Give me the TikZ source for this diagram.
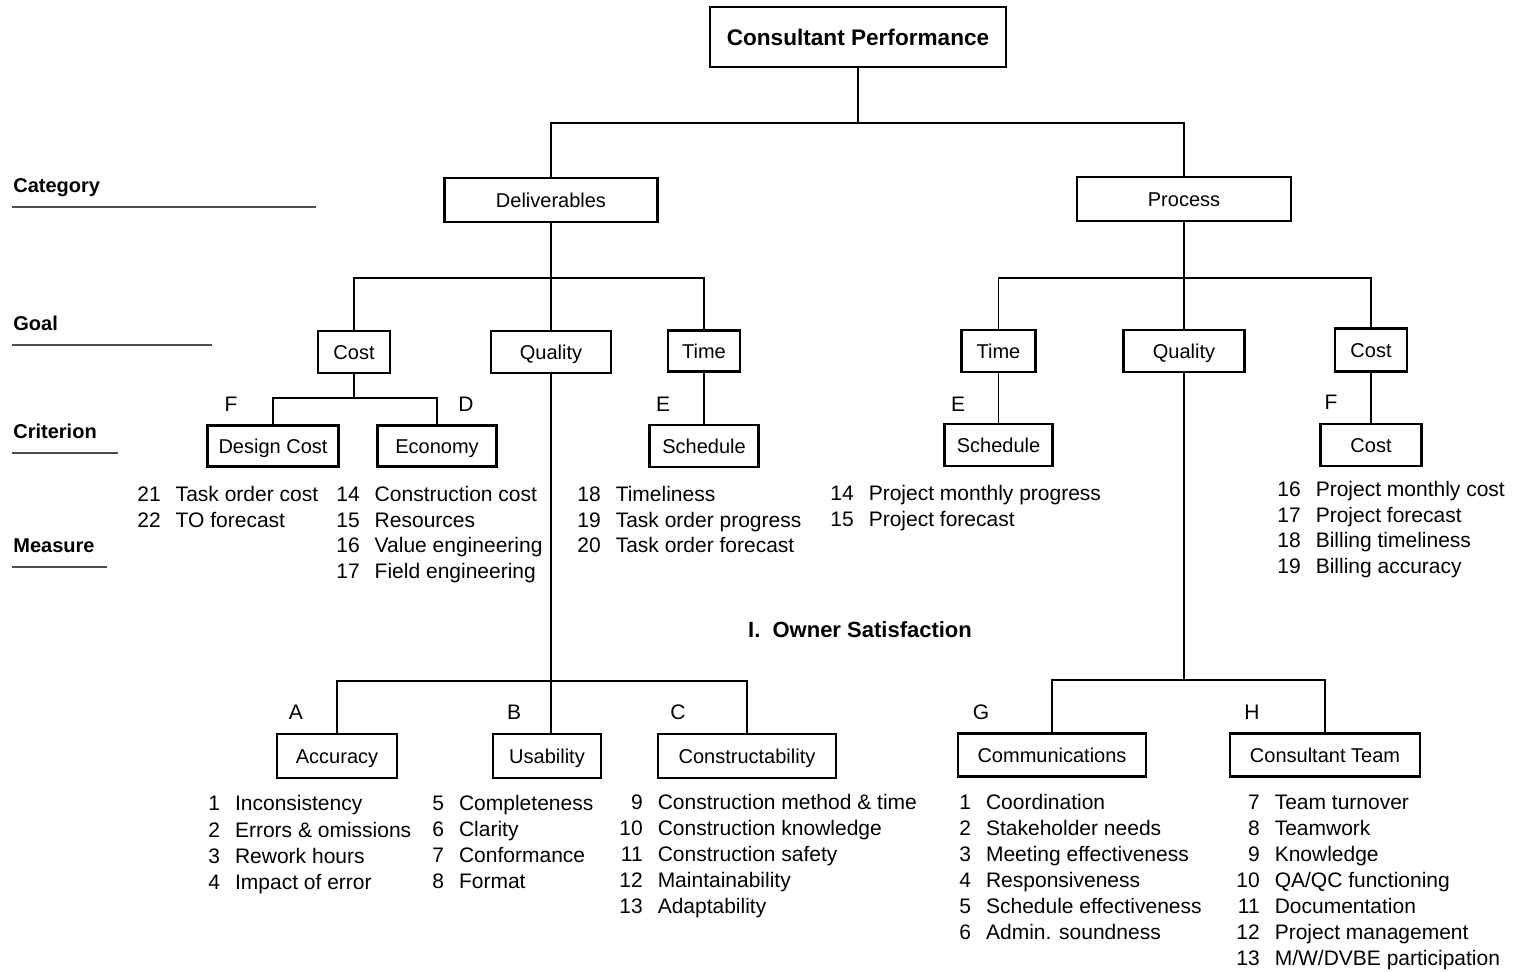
\documentclass[tikz,border=0pt]{standalone}
\usepackage{fontspec}
\setmainfont{Liberation Sans}
\newcommand{\mlist}[1]{\begin{tabular}[t]{@{}r@{\hspace{7.5pt}}l@{}}#1\end{tabular}}
\tikzset{
  box/.style={draw, line width=1.25pt, inner sep=0pt, minimum height=21pt, text height=8.5pt, text depth=1.2pt, font=\fontsize{10}{12}\selectfont},
  topbox/.style={draw, line width=1.25pt, inner sep=0pt, minimum width=148pt, minimum height=30pt, text height=9.4pt, text depth=1.2pt, font=\bfseries\fontsize{11.3}{13}\selectfont},
  lvl/.style={anchor=base west, inner sep=0pt, font=\bfseries\fontsize{10}{12}\selectfont},
  letter/.style={inner sep=0pt, font=\fontsize{10.5}{12}\selectfont},
  lstT/.style={anchor=base west, inner sep=0pt, font=\fontsize{10.5}{12.75}\selectfont},
  lstB/.style={anchor=base west, inner sep=0pt, font=\fontsize{10.5}{13.05}\selectfont},
  conn/.style={line width=0.8pt},
  uline/.style={line width=1pt, black!70},
}
\begin{document}
\begin{tikzpicture}[x=0.5pt,y=-0.5pt]
\useasboundingbox (0,0) rectangle (1516,972);

% level labels
\node[lvl] (lcat) at (13,193) {Category};
\node[lvl] (lgoal) at (13,331) {Goal};
\node[lvl] (lcrit) at (13,439) {Criterion};
\node[lvl] (lmeas) at (13,553) {Measure};
\draw[uline] (12,207) -- (316,207);
\draw[uline] (12,345) -- (212,345);
\draw[uline] (12,453) -- (118,453);
\draw[uline] (12,567) -- (107,567);

% top
\node[topbox] (top) at (858,37) {Consultant Performance};
\node[box, minimum width=106.5pt, minimum height=22pt] (dlv) at (551,200) {Deliverables};
\node[box, minimum width=107pt, minimum height=22pt] (prc) at (1184,199) {Process};

% goals
\node[box, minimum width=36pt] (gcL) at (354,352) {Cost};
\node[box, minimum width=60pt] (gqL) at (551,352) {Quality};
\node[box, minimum width=36pt, minimum height=20.5pt] (gtL) at (704,351) {Time};
\node[box, minimum width=37pt] (gtR) at (998.5,351) {Time};
\node[box, minimum width=60.5pt] (gqR) at (1184,351) {Quality};
\node[box, minimum width=36pt, minimum height=21.5pt] (gcR) at (1371,350) {Cost};

% criteria
\node[box, minimum width=65.5pt, minimum height=20.5pt] (cDC) at (273,446) {Design Cost};
\node[box, minimum width=59.5pt, minimum height=20.5pt] (cEc) at (437,446) {Economy};
\node[box, minimum width=54.5pt] (cSL) at (704,446) {Schedule};
\node[box, minimum width=54pt] (cSR) at (998.5,445) {Schedule};
\node[box, minimum width=50.5pt] (cCR) at (1371,445) {Cost};
\node[box, minimum width=60pt, minimum height=22pt] (cAcc) at (337,756) {Accuracy};
\node[box, minimum width=54pt, minimum height=22pt] (cUse) at (547,756) {Usability};
\node[box, minimum width=89pt, minimum height=22pt] (cCon) at (747,756) {Constructability};
\node[box, minimum width=94pt, minimum height=21.5pt] (cCom) at (1052,755) {Communications};
\node[box, minimum width=95pt, minimum height=21.5pt] (cTeam) at (1325,755) {Consultant Team};

% letters
\node[letter] (lF1) at (231,404) {F};
\node[letter] (lD) at (466,404) {D};
\node[letter] (lE1) at (663,404) {E};
\node[letter] (lE2) at (958,404) {E};
\node[letter] (lF2) at (1331,402) {F};
\node[letter] (lA) at (296,712) {A};
\node[letter] (lB) at (514,712) {B};
\node[letter] (lC) at (678,712) {C};
\node[letter] (lG) at (981,712) {G};
\node[letter] (lH) at (1252,712) {H};

% owner satisfaction
\node[inner sep=0pt, font=\bfseries\fontsize{11}{13}\selectfont] (own) at (860,630) {I.\ \ Owner Satisfaction};

% connectors
\coordinate (b0) at (858,123);
\draw[conn] (top.south) -- (b0);
\draw[conn] (dlv.north) |- (b0) -| (prc.north);

\coordinate (bD) at (551,278);
\draw[conn] (dlv.south) -- (bD);
\draw[conn] (gcL.north) |- (bD) -| (gtL.north);
\draw[conn] (bD) -- (gqL.north);

\coordinate (bC) at (354,398);
\draw[conn] (gcL.south) -- (bC);
\draw[conn] (cDC.north) |- (bC) -| (cEc.north);
\draw[conn] (gtL.south) -- (cSL.north);

\coordinate (bQ) at (551,681);
\draw[conn] (gqL.south) -- (bQ);
\draw[conn] (cAcc.north) |- (bQ) -| (cCon.north);
\draw[conn] (bQ) -- (bQ |- cUse.north);

\coordinate (bP) at (1184,278);
\draw[conn] (prc.south) -- (bP);
\draw[conn] (gtR.north) |- (bP) -| (gcR.north);
\draw[conn] (bP) -- (gqR.north);
\draw[conn] (gtR.south) -- (cSR.north);
\draw[conn] (gcR.south) -- (cCR.north);

\coordinate (bQR) at (1184,680);
\draw[conn] (gqR.south) -- (bQR);
\draw[conn] (cCom.north) |- (bQR) -| (cTeam.north);

% measures
\node[lstT] (mDC) at (137,502) {\mlist{21 & Task order cost\\ 22 & TO forecast}};
\node[lstT] (mEc) at (336,502) {\mlist{14 & Construction cost\\ 15 & Resources\\ 16 & Value engineering\\ 17 & Field engineering}};
\node[lstT] (mSL) at (577,502) {\mlist{18 & Timeliness\\ 19 & Task order progress\\ 20 & Task order forecast}};
\node[lstT] (mSR) at (830,501) {\mlist{14 & Project monthly progress\\ 15 & Project forecast}};
\node[lstT] (mCR) at (1277,497) {\mlist{16 & Project monthly cost\\ 17 & Project forecast\\ 18 & Billing timeliness\\ 19 & Billing accuracy}};
\node[lstB] (mAcc) at (208,811) {\mlist{1 & Inconsistency\\ 2 & Errors \& omissions\\ 3 & Rework hours\\ 4 & Impact of error}};
\node[lstB] (mUse) at (432,810) {\mlist{5 & Completeness\\ 6 & Clarity\\ 7 & Conformance\\ 8 & Format}};
\node[lstB] (mCon) at (619,809) {\mlist{9 & Construction method \& time\\ 10 & Construction knowledge\\ 11 & Construction safety\\ 12 & Maintainability\\ 13 & Adaptability}};
\node[lstB] (mCom) at (959,809) {\mlist{1 & Coordination\\ 2 & Stakeholder needs\\ 3 & Meeting effectiveness\\ 4 & Responsiveness\\ 5 & Schedule effectiveness\\ 6 & Admin. soundness}};
\node[lstB] (mTeam) at (1236,809) {\mlist{7 & Team turnover\\ 8 & Teamwork\\ 9 & Knowledge\\ 10 & QA/QC functioning\\ 11 & Documentation\\ 12 & Project management\\ 13 & M/W/DVBE participation}};
\end{tikzpicture}
\end{document}
